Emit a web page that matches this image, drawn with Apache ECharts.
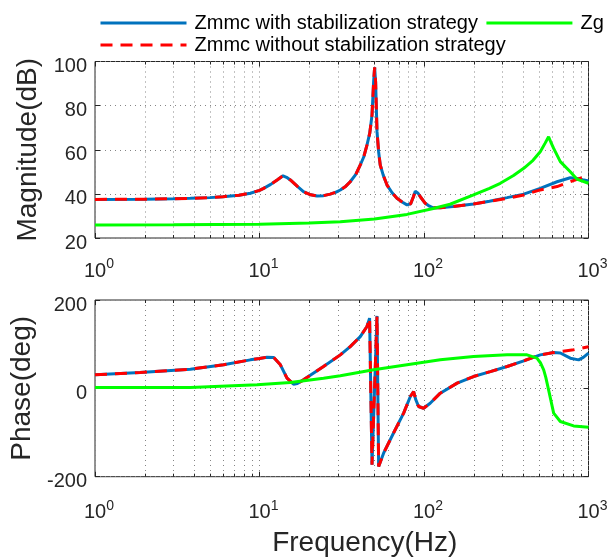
<!DOCTYPE html>
<html><head><meta charset="utf-8">
<script src="https://cdn.jsdelivr.net/npm/echarts@6/dist/echarts.min.js"></script>
<style>html,body{margin:0;padding:0;background:#fff}#c{width:613px;height:560px}</style>
</head><body><div id="c"></div>
<script>
// ---- data ----
const nameWith = 'Zmmc with stabilization strategy';
const nameWithout = 'Zmmc without stabilization strategy';
const nameZg = 'Zg';

const magWithF = [1,2,3,3.8,5,6,7.5,8.8,10,10.6,11.7,12.8,13.9,14.6,15.4,17,18.5,20.5,22.4,24.5,26.9,29,31,33.5,35.6,38.5,41,43,45,46.8,48.3,49.4,50.1,50.8,51.8,53,54.2,56.5,59.6,64,68.5,74,78.8,80.6,83,86,88.5,89.8,92,95,101.8,108,114,125.6,150,200,250,320,404,509,644,775,851,920,1000];
const magWith = [37.5,37.6,37.8,38.0,38.3,38.7,39.4,40.3,41.6,42.5,44.3,46.3,48.2,47.5,46.3,43.4,41.0,39.6,39.0,39.2,39.9,40.7,41.75,43.5,45.5,48.8,53.1,56.7,62.1,67.5,75.7,90.8,97.4,90.8,68.2,59,53.1,48.5,44.0,40.5,38.0,36.2,35.0,34.7,35.5,38.5,41.2,41.75,40.3,38.7,35.7,34.4,33.7,33.7,34.3,35.4,36.7,38.3,39.9,42.5,45.5,47.3,47.0,46.4,45.8];
const magWithout = [37.5,37.6,37.8,38.0,38.3,38.7,39.4,40.3,41.6,42.5,44.3,46.3,48.2,47.5,46.3,43.4,41.0,39.6,39.0,39.2,39.9,40.7,41.75,43.5,45.5,48.8,53.1,56.7,62.1,67.5,75.7,90.8,97.4,90.8,68.2,59,53.1,48.5,44.0,40.5,38.0,36.2,35.0,34.7,35.5,38.5,41.2,41.75,40.3,38.7,35.7,34.4,33.7,33.7,34.3,35.4,36.6,38.0,39.5,41.8,43.3,45.5,46.6,47.4,48.3];
const magZgF = [1,3,10,20,31,50,78.8,114,144,200,250,291,350,404,460,509,545,572,590,614,674,775,849,1000];
const magZg = [25.9,25.95,26.2,26.8,27.4,28.6,30.7,33.4,35.3,39.5,42.5,44.8,48.3,51.6,55.2,59.1,63,65.9,63.5,60.6,54.6,50.0,46.7,44.8];

const phWithF = [1,1.88,3.8,6.05,8.8,10,11.1,12.2,13.4,14.7,16.1,17,18.5,24.5,31,35.6,41,45,46.7,48.3,51.8,53,56.8,65.3,75.2,82.6,86.5,89,92.7,99.5,109,125.6,159,200,253,320,404,509,614,674,775,871,930,1000];
const phWith = [30.6,35.8,43.4,53.2,64.5,67.5,70.6,69.9,53.2,23.1,9.5,11,19.2,49.4,75.8,94.6,117,140,159,-173,164,-177,-146.8,-101,-56,-18.5,-7.2,-25,-41,-45,-33.6,-10.9,11.8,26.7,38,49.4,62.3,75.8,81,80,68.3,64.5,70,79.7];
const phWithoutF = [1,1.88,3.8,6.05,8.8,10,11.1,12.2,13.4,14.7,16.1,17,18.5,24.5,31,35.6,41,45,46.7,48.3,51.8,53,56.8,65.3,75.2,82.6,86.5,89,92.7,99.5,109,125.6,159,200,253,320,404,509,614,700,812,900,1000];
const phWithout = [30.6,35.8,43.4,53.2,64.5,67.5,70.6,69.9,53.2,23.1,9.5,11,19.2,49.4,75.8,94.6,117,140,159,-173,164,-177,-146.8,-101,-56,-18.5,-7.2,-25,-41,-45,-33.6,-10.9,11.8,26.7,38,49.4,62.3,75.8,81,84,87.2,90.5,94];
const phZgF = [1,3.8,9.66,15.4,24.5,31,49.4,78.8,125.6,200,320,423,486,510,534,550,572,614,674,812,1000];
const phZg = [1.8,2,8,13,23,28.3,41.9,53.2,64.5,72,75.8,75.8,68.3,58,41.9,25,-3.4,-56,-75,-85,-87.9];

const freqMin = 1, freqMax = 1000;
const magTicks = [20, 40, 60, 80, 100];
const phaseTicks = [-200, 0, 200];
const minorFreqs = [2,3,4,5,6,7,8,9,20,30,40,50,60,70,80,90,200,300,400,500,600,700,800,900];

// ---- style ----
const FONT = '"Liberation Sans", Arial, Helvetica, sans-serif';
const AX = '#262626';
const GRIDC = '#858585';
const DOT = [1, 4];
const BLUE = '#0072BD', RED = '#FF0000', GREEN = '#00FF00';

const zip = (f, v) => f.map((x, i) => [x, v[i]]);

function minorRender(params, api) {
  const x = Math.round(api.coord([api.value(0), api.value(1)])[0]) + 0.5;
  const cs = params.coordSys;
  const y0 = cs.y, y1 = cs.y + cs.height;
  return {type: 'group', children: [
    {type: 'line', shape: {x1: x, y1: y0, x2: x, y2: y1}, style: {stroke: GRIDC, lineWidth: 1, lineDash: DOT}},
    {type: 'line', shape: {x1: x, y1: y1, x2: x, y2: y1 - 3}, style: {stroke: AX, lineWidth: 1}},
    {type: 'line', shape: {x1: x, y1: y0, x2: x, y2: y0 + 3}, style: {stroke: AX, lineWidth: 1}}
  ]};
}

function xBottom(gi, withName, margin) {
  const a = {
    type: 'log', logBase: 10, min: freqMin, max: freqMax, gridIndex: gi, splitNumber: 3,
    axisLine: {show: false, onZero: false},
    axisTick: {show: true, inside: true, length: 5, lineStyle: {color: AX}},
    splitLine: {show: true, lineStyle: {color: GRIDC, type: DOT, width: 1}},
    axisLabel: {
      margin: margin, color: AX, fontFamily: FONT,
      formatter: v => '{b|10}{s|' + Math.round(Math.log10(v)) + '}',
      rich: {
        b: {fontSize: 20, lineHeight: 20, verticalAlign: 'bottom', padding: [0, 0, 0, 8], color: AX, fontFamily: FONT},
        s: {fontSize: 14, lineHeight: 14, verticalAlign: 'bottom', padding: [0, 0, 10, 0], color: AX, fontFamily: FONT}
      }
    }
  };
  if (withName) {
    a.name = 'Frequency(Hz)';
    a.nameLocation = 'middle';
    a.nameGap = 53;
    a.nameTextStyle = {fontSize: 28, color: AX, fontFamily: FONT, padding: [0, 0, 0, 46]};
  }
  return a;
}
function xTop(gi) {
  return {type: 'log', logBase: 10, min: freqMin, max: freqMax, gridIndex: gi, position: 'top', splitNumber: 3,
    axisLine: {show: false, onZero: false}, axisTick: {show: true, inside: true, length: 5, lineStyle: {color: AX}},
    axisLabel: {show: false}, splitLine: {show: false}};
}
function yLeft(gi, ticks, name) {
  return {type: 'value', gridIndex: gi, min: ticks[0], max: ticks[ticks.length - 1], interval: ticks[1] - ticks[0],
    axisLine: {show: false, onZero: false}, axisTick: {show: true, inside: true, length: 5, lineStyle: {color: AX}},
    splitLine: {show: true, lineStyle: {color: GRIDC, type: DOT, width: 1}},
    axisLabel: {margin: 8, formatter: v => '{a|' + v + '}',
      rich: {a: {fontSize: 20, color: AX, fontFamily: FONT, padding: [10, 0, 0, 0]}}},
    name: name, nameLocation: 'middle', nameGap: 52,
    nameTextStyle: {fontSize: 28, color: AX, fontFamily: FONT}};
}
function yRight(gi, ticks) {
  return {type: 'value', gridIndex: gi, position: 'right', min: ticks[0], max: ticks[ticks.length - 1], interval: ticks[1] - ticks[0],
    axisLine: {show: false, onZero: false}, axisTick: {show: true, inside: true, length: 5, lineStyle: {color: AX}},
    axisLabel: {show: false}, splitLine: {show: false}};
}
function lineSeries(name, data, xi, yi, color, dashed) {
  return {type: 'line', name: name, data: data, xAxisIndex: xi, yAxisIndex: yi,
    symbol: 'none', smooth: false, z: 3,
    lineStyle: {color: color, width: 3, type: dashed ? [12, 8] : 'solid'},
    itemStyle: {color: color}};
}
const legendCommon = {left: 94, itemWidth: 86, itemHeight: 20, itemGap: 7,
  itemStyle: {opacity: 0, borderWidth: 0},
  lineStyle: {width: 3},
  textStyle: {fontSize: 20, color: '#000', fontFamily: FONT, padding: [0, 0, 0, 3]}};

const chart = echarts.init(document.getElementById('c'), null, {renderer: 'canvas'});
chart.setOption({
  animation: false,
  backgroundColor: '#fff',
  textStyle: {fontFamily: FONT},
  grid: [
    {left: 95, top: 61.5, width: 493.5, height: 176.5, show: true, borderColor: AX, borderWidth: 1},
    {left: 95, top: 300, width: 493.5, height: 176.7, show: true, borderColor: AX, borderWidth: 1}
  ],
  legend: [
    Object.assign({data: [nameWith, nameZg], top: 8}, legendCommon),
    Object.assign({data: [nameWithout], top: 30}, legendCommon)
  ],
  xAxis: [xBottom(0, false, 23), xTop(0), xBottom(1, true, 26), xTop(1)],
  yAxis: [yLeft(0, magTicks, 'Magnitude(dB)'), yRight(0, magTicks), yLeft(1, phaseTicks, 'Phase(deg)'), yRight(1, phaseTicks)],
  series: [
    {type: 'custom', silent: true, z: 1, xAxisIndex: 0, yAxisIndex: 0, renderItem: minorRender,
     encode: {x: 0, y: 1}, data: minorFreqs.map(f => [f, magTicks[0]])},
    {type: 'custom', silent: true, z: 1, xAxisIndex: 2, yAxisIndex: 2, renderItem: minorRender,
     encode: {x: 0, y: 1}, data: minorFreqs.map(f => [f, phaseTicks[0]])},
    lineSeries(nameWith, zip(magWithF, magWith), 0, 0, BLUE, false),
    lineSeries(nameWithout, zip(magWithF, magWithout), 0, 0, RED, true),
    lineSeries(nameZg, zip(magZgF, magZg), 0, 0, GREEN, false),
    lineSeries(nameWith, zip(phWithF, phWith), 2, 2, BLUE, false),
    lineSeries(nameWithout, zip(phWithoutF, phWithout), 2, 2, RED, true),
    lineSeries(nameZg, zip(phZgF, phZg), 2, 2, GREEN, false)
  ]
});
</script></body></html>
